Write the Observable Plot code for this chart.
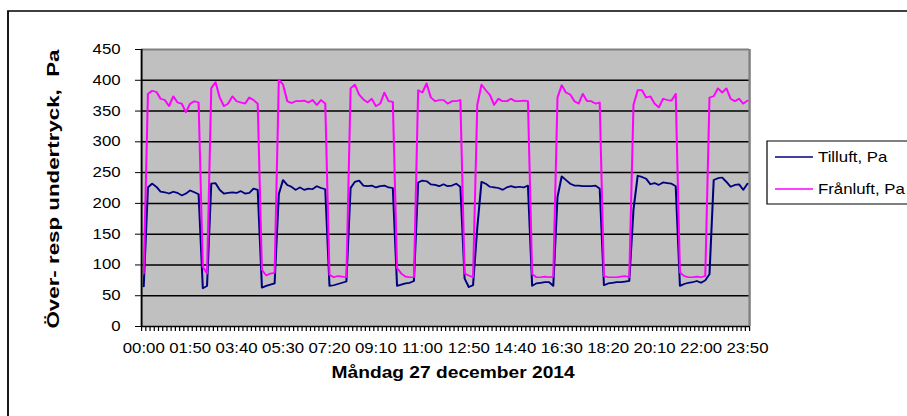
<!DOCTYPE html>
<html><head><meta charset="utf-8">
<script src="https://cdn.jsdelivr.net/npm/d3@7"></script>
<script src="https://cdn.jsdelivr.net/npm/@observablehq/plot@0.6"></script>
<style>
html,body{margin:0;padding:0;background:#fff;overflow:hidden;}
#chart{position:relative;width:907px;height:416px;overflow:hidden;}
</style></head><body><div id="chart"></div>
<script>
// Tilluft, Pa (blue) – 144 ten-minute readings 00:00 … 23:50
const tilluft = [
  65,
  226,232,227,219,218,216,219,217,213,216,221,218,215,
  62,66,
  232,233,222,216,217,218,217,220,216,217,224,222,
  63,66,68,70,
  215,238,230,227,222,226,222,224,223,228,225,223,
  66,67,69,71,73,
  225,235,237,229,228,229,226,228,229,226,225,
  66,68,70,71,74,
  234,237,236,231,230,228,231,228,229,232,227,
  78,64,67,
  160,235,232,227,226,225,222,226,228,226,227,226,229,
  66,70,71,72,72,66,
  210,244,238,232,229,229,228,228,228,229,224,
  67,70,71,72,72,73,74,
  190,245,243,240,231,233,230,234,233,232,228,
  66,69,71,72,74,71,75,
  85,238,241,242,235,227,230,231,222,232
];
// Frånluft, Pa (magenta)
const franluft = [
  86,
  378,383,381,370,368,358,374,364,362,348,362,366,364,
  97,86,
  387,397,372,358,362,374,366,364,362,372,368,362,
  92,83,86,87,
  401,393,366,363,366,366,367,364,368,360,368,362,
  84,80,82,81,80,
  387,393,377,369,364,370,358,362,380,366,365,
  95,86,81,80,80,
  384,380,395,372,366,368,368,362,366,366,368,
  86,83,80,
  360,393,384,376,360,370,366,366,370,366,366,367,366,
  85,80,80,81,80,81,
  372,392,380,377,366,362,378,366,366,362,364,
  82,80,80,80,81,82,80,
  360,384,384,372,374,362,356,370,368,367,378,
  88,82,80,80,81,80,82,
  372,374,387,380,387,370,366,370,362,367
];
const tickLabels = ["00:00","01:50","03:40","05:30","07:20","09:10","11:00","12:50","14:40","16:30","18:20","20:10","22:00","23:50"];
const yTicks = [0,50,100,150,200,250,300,350,400,450];
const seriesNames = ["Tilluft, Pa","Frånluft, Pa"];
const seriesColors = ["#000080","#FF00FF"];
const xTitle = "Måndag 27 december 2014";
const yTitle = "Över- resp undertryck,  Pa";

const S = 1.2, W = 907 / S, H = 416;
const rows = [];
tilluft.forEach((v, i) => rows.push({i: i + 0.5, v, s: seriesNames[0]}));
franluft.forEach((v, i) => rows.push({i: i + 0.5, v, s: seriesNames[1]}));

const mL = 141 / S, mR = (907 - 749) / S, mT = 49, mB = 90;
const chart = Plot.plot({
  width: W, height: H,
  marginLeft: mL, marginRight: mR, marginTop: mT, marginBottom: mB,
  style: {fontFamily: "Arial, 'Liberation Sans', sans-serif", fontSize: "14px", color: "#000", background: "transparent", overflow: "visible"},
  x: {type: "linear", domain: [0, 144], label: null},
  y: {domain: [0, 450], label: null},
  color: {domain: seriesNames, range: seriesColors},
  marks: [
    Plot.frame({fill: "#C0C0C0", stroke: null}),
    Plot.ruleY(yTicks.filter(d => d > 0 && d < 450), {stroke: "#000", strokeWidth: 1.5}),
    Plot.ruleY([450], {stroke: "#808080", strokeWidth: 2}),
    Plot.ruleX([144], {stroke: "#808080", strokeWidth: 2}),
    Plot.axisY(yTicks, {tickSize: 5, tickPadding: 12.5, stroke: "#000", fontSize: 14, label: null}),
    Plot.axisX(d3.range(0, 145), {tickSize: 5, tickFormat: () => "", stroke: "#000", strokeWidth: 1, label: null}),
    Plot.axisX(tickLabels.map((d, k) => k * 11 + 0.5), {tickSize: 0, tickPadding: 17, fontSize: 14, label: null,
      tickFormat: d => tickLabels[Math.round((d - 0.5) / 11)]}),
    Plot.lineY(rows, {x: "i", y: "v", stroke: "s", strokeWidth: 1.7}),
    Plot.ruleX([0], {stroke: "#000", strokeWidth: 1.6}),
    Plot.ruleY([0], {stroke: "#000", strokeWidth: 1.6}),
    Plot.text([xTitle], {text: d => d, frameAnchor: "bottom", dx: 377.1 - (mL + (W - mR)) / 2, dy: 51, fontWeight: "bold", fontSize: 16}),
    Plot.text([yTitle], {text: d => d, frameAnchor: "left", rotate: -90, textAnchor: "start",
      dx: 44.2 - mL, dy: 328 - (mT + (H - mB)) / 2, fontWeight: "bold", fontSize: 14})
  ]
});

chart.setAttribute("width", 907);
chart.setAttribute("height", 416);
chart.setAttribute("preserveAspectRatio", "none");
chart.style.width = "907px";
chart.style.height = "416px";
chart.style.maxWidth = "none";

// stretch the rotated axis title along its length
chart.querySelectorAll("text").forEach(t => {
  if (t.textContent === yTitle) {
    t.setAttribute("textLength", 279);
    t.setAttribute("lengthAdjust", "spacingAndGlyphs");
    t.style.whiteSpace = "pre";
  }
});

const svg = d3.select(chart);
// outer chart-area border
svg.insert("rect", ":first-child")
  .attr("x", 8 / S).attr("y", 11).attr("width", 900).attr("height", 500)
  .attr("fill", "none").attr("stroke", "#000").attr("stroke-width", 1.5);
// legend
const lg = svg.append("g").attr("font-family", "Arial, 'Liberation Sans', sans-serif")
  .attr("font-size", 14).attr("text-anchor", "start");
lg.append("rect").attr("x", 767 / S).attr("y", 141).attr("width", 200).attr("height", 63)
  .attr("fill", "#fff").attr("stroke", "#000").attr("stroke-width", 1);
seriesNames.forEach((name, k) => {
  const cy = 157 + k * 32;
  lg.append("line").attr("x1", 775 / S).attr("x2", 813 / S).attr("y1", cy).attr("y2", cy)
    .attr("stroke", seriesColors[k]).attr("stroke-width", 1.5);
  lg.append("text").attr("x", 818 / S).attr("y", cy + 5.5).attr("fill", "#000")
    .attr("text-anchor", "start").text(name);
});

document.getElementById("chart").appendChild(chart);
</script>
</body></html>
